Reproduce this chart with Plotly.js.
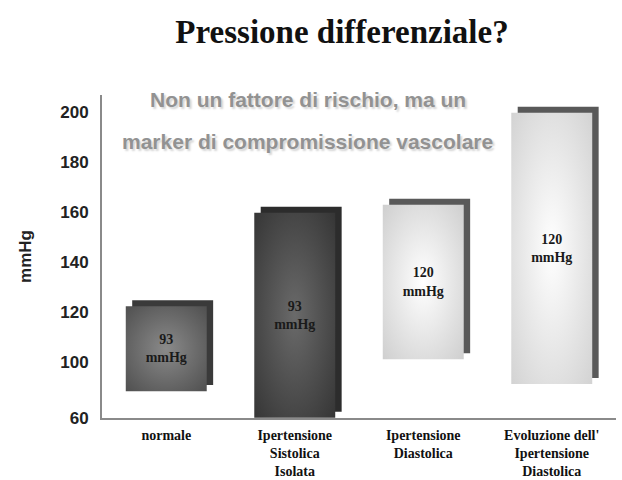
<!DOCTYPE html>
<html><head><meta charset="utf-8">
<script src="https://cdn.plot.ly/plotly-3.0.1.min.js"></script>
<style>html,body{margin:0;padding:0;background:#fff}#chart{width:622px;height:480px}</style>
</head><body><div id="chart"></div>
<script>
// ---- data ----
const categories = ["normale", "Ipertensione<br>Sistolica<br>Isolata", "Ipertensione<br>Diastolica", "Evoluzione dell'<br>Ipertensione<br>Diastolica"];
const lowValues = [88.6, 78, 101.3, 91.4];
const highValues = [122.4, 159.7, 162.9, 199.5];
const pulseLabels = ["93<br>mmHg", "93<br>mmHg", "120<br>mmHg", "120<br>mmHg"];
const yTickVals = [78, 100, 120, 140, 160, 180, 200];
const yTickText = ["60", "100", "120", "140", "160", "180", "200"];
const subtitleLines = ["Non un fattore di rischio, ma un", "marker di compromissione vascolare"];

// ---- style ----
const barWidth = 0.63;
const shadowDx = 0.05;   // category units
const shadowDy = 2.4;    // mmHg units
const frontColors = ['#676767', '#4d4d4d', '#ececec', '#ececec'];
const shadowColors = ['#3a3a3a', '#2c2c2c', '#595959', '#595959'];
const gradients = [
  {c: '#8a8a8a', e: '#505050'},
  {c: '#6a6a6a', e: '#363636'},
  {c: '#ffffff', e: '#cfcfcf'},
  {c: '#ffffff', e: '#d3d3d3'}
];

const diffs = highValues.map((h, i) => h - lowValues[i]);

const shadowTrace = {
  type: 'bar', x: categories, base: lowValues.map(v => v + shadowDy), y: diffs,
  width: barWidth, offset: -barWidth / 2 + shadowDx,
  marker: {color: shadowColors, line: {width: 0}}, hoverinfo: 'skip', showlegend: false
};
const frontTrace = {
  type: 'bar', x: categories, base: lowValues, y: diffs,
  width: barWidth, offset: -barWidth / 2,
  marker: {color: frontColors, line: {width: 0}},
  text: pulseLabels.map(t => '<b>' + t + '</b>'), textposition: 'inside', insidetextanchor: 'middle', textangle: 0,
  insidetextfont: {family: 'Liberation Serif, Times New Roman, serif', size: 14, color: '#1a1a1a'},
  hoverinfo: 'skip', showlegend: false
};

const subFont = {family: 'Liberation Sans, Arial, sans-serif', size: 21, color: '#929292', shadow: '2px 2px 2px #d4d4d4'};

const layout = {
  width: 622, height: 480,
  margin: {l: 102, r: 6, t: 95, b: 62},
  paper_bgcolor: '#fff', plot_bgcolor: '#fff',
  barmode: 'overlay',
  title: {
    text: '<b>Pressione differenziale?</b>',
    font: {family: 'Liberation Serif, Times New Roman, serif', size: 33, color: '#111'},
    xref: 'container', x: 342 / 622, xanchor: 'center',
    yref: 'container', y: 1 - 31 / 480, yanchor: 'middle'
  },
  xaxis: {
    type: 'category', range: [-0.5, 3.5], showgrid: false, zeroline: false,
    showline: true, linecolor: '#8a8a8a', linewidth: 2,
    ticks: '', ticklabelstandoff: 3,
    tickfont: {family: 'Liberation Serif, Times New Roman, serif', size: 14, color: '#111', weight: 'bold'}
  },
  yaxis: {
    range: [77.9, 206.6], showgrid: false, zeroline: false,
    showline: true, linecolor: '#8a8a8a', linewidth: 2,
    tickvals: yTickVals, ticktext: yTickText, ticks: '', ticklabelstandoff: 8,
    tickfont: {family: 'Liberation Sans, Arial, sans-serif', size: 17, color: '#222', weight: 'bold'},
    title: {text: '<b>mmHg</b>', standoff: 24, font: {family: 'Liberation Sans, Arial, sans-serif', size: 17, color: '#222'}}
  },
  annotations: [
    {text: '<b>' + subtitleLines[0] + '</b>', xref: 'paper', yref: 'paper', x: 0.40, y: 0.985, xanchor: 'center', yanchor: 'middle', showarrow: false, font: subFont},
    {text: '<b>' + subtitleLines[1] + '</b>', xref: 'paper', yref: 'paper', x: 0.40, y: 0.855, xanchor: 'center', yanchor: 'middle', showarrow: false, font: subFont}
  ]
};

Plotly.newPlot('chart', [shadowTrace, frontTrace], layout, {displayModeBar: false, staticPlot: true}).then(() => {
  const svgNS = 'http://www.w3.org/2000/svg';
  const defs = document.querySelector('svg.main-svg defs');
  gradients.forEach((g, i) => {
    const rg = document.createElementNS(svgNS, 'radialGradient');
    rg.setAttribute('id', 'barGrad' + i);
    rg.setAttribute('cx', '0.5'); rg.setAttribute('cy', '0.5'); rg.setAttribute('r', '0.7');
    [[0, g.c], [1, g.e]].forEach(([o, c]) => {
      const s = document.createElementNS(svgNS, 'stop');
      s.setAttribute('offset', o); s.setAttribute('stop-color', c);
      rg.appendChild(s);
    });
    defs.appendChild(rg);
  });
  const traces = document.querySelectorAll('.barlayer .trace');
  const paths = traces[1].querySelectorAll('.point path');
  paths.forEach((p, i) => { p.style.fill = 'url(#barGrad' + i + ')'; });
});
</script>
</body></html>
